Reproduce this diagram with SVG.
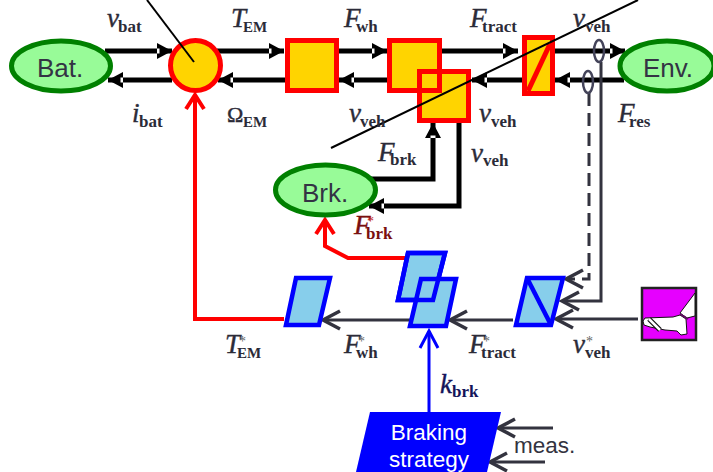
<svg xmlns="http://www.w3.org/2000/svg" width="713" height="472" viewBox="0 0 713 472">
<style>
text{font-family:"Liberation Sans",Arial,sans-serif}
.lbl{font-size:26px;fill:#333344;text-anchor:middle}
.env{fill:#98fb98;stroke:#008000;stroke-width:5}
.ec{fill:#ffd400;stroke:#ff0000;stroke-width:5}
.ol{fill:none;stroke:#ff0000;stroke-width:5}
.pc{fill:#87ceeb;stroke:#0000ff;stroke-width:4.5;stroke-linejoin:miter}
.pl{fill:none;stroke:#0000ff;stroke-width:4.5}
.b{fill:none;stroke:#000;stroke-width:5}
.g{fill:none;stroke:#33333f;stroke-width:3}
.r{fill:none;stroke:#ff0000;stroke-width:4}
.t{font-family:"Liberation Serif",serif;fill:#2b2b38}
.m{font-style:italic;font-size:27px;stroke:#2b2b38;stroke-width:.4}
.s{font-weight:bold;font-size:17px}
.st{font-size:14px;fill:#666}
.dr{fill:#7a1010}
.dn{fill:#14145a}
</style>
<defs>
<marker id="bh" markerUnits="userSpaceOnUse" markerWidth="16" markerHeight="18" refX="15" refY="9" orient="auto" overflow="visible">
<path d="M0 1L15 9L0 17Z" fill="#000"/><path d="M0 6.500h2.500v5H0Z" fill="#fff"/>
</marker>
<marker id="gh" markerUnits="userSpaceOnUse" markerWidth="20" markerHeight="28" refX="18" refY="14" orient="auto" overflow="visible">
<path d="M1 5L18 14L1 23" fill="none" stroke="#33333f" stroke-width="3.500"/>
</marker>
<marker id="rh" markerUnits="userSpaceOnUse" markerWidth="20" markerHeight="28" refX="16" refY="14" orient="auto" overflow="visible">
<path d="M2 5L16 14L2 23" fill="none" stroke="#ff0000" stroke-width="4"/>
</marker>
<marker id="uh" markerUnits="userSpaceOnUse" markerWidth="20" markerHeight="28" refX="18" refY="14" orient="auto" overflow="visible">
<path d="M1 5L18 14L1 23" fill="none" stroke="#0000ff" stroke-width="3"/>
</marker>
</defs>

<g id="connectors">
<path class="b" d="M105 51H172" marker-end="url(#bh)"/>
<path class="b" d="M217 51H284" marker-end="url(#bh)"/>
<path class="b" d="M339 51H387" marker-end="url(#bh)"/>
<path class="b" d="M442 51H518" marker-end="url(#bh)"/>
<path class="b" d="M555 51H625" marker-end="url(#bh)"/>
<path class="b" d="M172 80H108" marker-end="url(#bh)"/>
<path class="b" d="M287 80H218" marker-end="url(#bh)"/>
<path class="b" d="M389 80H339" marker-end="url(#bh)"/>
<path class="b" d="M524 80H472" marker-end="url(#bh)"/>
<path class="b" d="M624 80H555" marker-end="url(#bh)"/>
<path class="b" d="M371 179H433V123" marker-end="url(#bh)"/>
<path class="b" d="M459 123V206H369" marker-end="url(#bh)"/>
<path class="g" d="M601 62V301H562" marker-end="url(#gh)"/>
<path class="g" d="M589 93V279H566" stroke-dasharray="13 7" marker-end="url(#gh)"/>
<path class="g" d="M638 319H556" marker-end="url(#gh)"/>
<path class="g" d="M410 320H323" marker-end="url(#gh)"/>
<path class="g" d="M513 320H450" marker-end="url(#gh)"/>
<path class="g" d="M553 428H498" marker-end="url(#gh)"/>
<path class="g" d="M545 462H490" marker-end="url(#gh)"/>
<path class="r" d="M284 319H195V95" marker-end="url(#rh)"/>
<path class="r" d="M407 258H348L325 246V220" marker-end="url(#rh)"/>
<path d="M429 412V331" fill="none" stroke="#0000ff" stroke-width="3" marker-end="url(#uh)"/>
<ellipse cx="599" cy="51" rx="5" ry="11" fill="none" stroke="#44445a" stroke-width="2.500"/>
<ellipse cx="588" cy="82" rx="5" ry="11" fill="none" stroke="#44445a" stroke-width="2.500"/>
</g>

<g id="bat"><ellipse class="env" cx="61" cy="66" rx="49.500" ry="25"/><text class="lbl" x="60" y="77">Bat.</text></g>
<g id="conv"><circle class="ec" cx="195.500" cy="65.500" r="25"/></g>
<g id="machine"><rect class="ec" x="287.500" y="40.500" width="49" height="50"/></g>
<g id="coupling"><rect class="ec" x="389.500" y="40.500" width="50" height="50"/></g>
<g id="brake-block"><rect class="ec" x="419.500" y="71.500" width="49" height="49"/><rect class="ol" x="389.500" y="40.500" width="50" height="50"/></g>
<g id="wheel"><rect class="ec" x="524.500" y="37.500" width="28" height="56"/><path class="ol" d="M528 91L550 44"/></g>
<g id="env"><ellipse class="env" cx="667" cy="66" rx="47" ry="25"/><text class="lbl" x="668" y="77">Env.</text></g>
<g id="brk"><ellipse class="env" cx="325.500" cy="190" rx="50" ry="25"/><text class="lbl" x="325" y="202">Brk.</text></g>

<g id="ctrl-em"><path class="pc" d="M296 278H330L319 325H286Z"/></g>
<g id="ctrl-brk"><path class="pc" d="M408 253H445L433 300H398Z"/></g>
<g id="ctrl-coupling"><path class="pc" d="M421 279H456L446 326H410Z"/><path class="pl" d="M408 253H445L433 300H398Z"/></g>
<g id="ctrl-wheel"><path class="pc" d="M527 278H563L551 325H516Z"/><path class="pl" d="M527 278L551 325"/></g>

<g id="pedal">
<rect x="642" y="288" width="54" height="52" fill="#e600ff" stroke="#222" stroke-width="2.500"/>
<path d="M695 293V316L687 318L680 313Z" fill="#fff" stroke="#111" stroke-width="1"/>
<path d="M643 321L645 318L673 317L680 315L686 319L687 334L681 335L677 331L665 330L650 327L644 325Z" fill="#fff" stroke="#111" stroke-width="1"/>
<path d="M680 314L688 319" stroke="#601060" stroke-width="2"/>
<path d="M649 319L660 330" stroke="#111" stroke-width="5"/>
<path d="M649 319L660 330" stroke="#fff" stroke-width="2.500"/>
</g>

<g id="strategy">
<path d="M370 412H501L487 472H356Z" fill="#0000ff"/>
<text x="429" y="440" font-size="22.500" fill="#fff" text-anchor="middle">Braking</text>
<text x="429" y="467" font-size="22.500" fill="#fff" text-anchor="middle">strategy</text>
</g>

<path d="M147 0L194 62" stroke="#000" stroke-width="2" fill="none"/>
<path d="M331 148L638 0" stroke="#000" stroke-width="2" fill="none"/>

<g id="labels">
<text class="t"><tspan x="107" y="27" class="m">v</tspan><tspan x="118" y="32" class="s">bat</tspan></text>
<text class="t"><tspan x="231" y="27" class="m">T</tspan><tspan x="243" y="32" class="s" style="font-size:15px">EM</tspan></text>
<text class="t"><tspan x="344" y="27" class="m">F</tspan><tspan x="356" y="32" class="s">wh</tspan></text>
<text class="t"><tspan x="470" y="27" class="m">F</tspan><tspan x="482" y="32" class="s">tract</tspan></text>
<text class="t"><tspan x="573" y="27" class="m">v</tspan><tspan x="585" y="32" class="s">veh</tspan></text>
<text class="t"><tspan x="132" y="122" class="m">i</tspan><tspan x="139" y="127" class="s">bat</tspan></text>
<text class="t"><tspan x="227" y="122" class="m" style="font-style:normal;font-size:22px">Ω</tspan><tspan x="243" y="127" class="s" style="font-size:15px">EM</tspan></text>
<text class="t"><tspan x="349" y="122" class="m">v</tspan><tspan x="360" y="127" class="s">veh</tspan></text>
<text class="t"><tspan x="479" y="122" class="m">v</tspan><tspan x="491" y="127" class="s">veh</tspan></text>
<text class="t"><tspan x="618" y="122" class="m">F</tspan><tspan x="629" y="127" class="s">res</tspan></text>
<text class="t"><tspan x="378" y="161" class="m">F</tspan><tspan x="390" y="165" class="s">brk</tspan></text>
<text class="t"><tspan x="471" y="162" class="m">v</tspan><tspan x="483" y="166" class="s">veh</tspan></text>
<text class="t dr"><tspan x="354" y="234" class="m" style="stroke:#7a1010">F</tspan><tspan x="367" y="226" class="st" style="fill:#c02020">*</tspan><tspan x="366" y="239" class="s">brk</tspan></text>
<text class="t"><tspan x="225" y="353" class="m">T</tspan><tspan x="239" y="346" class="st">*</tspan><tspan x="237" y="358" class="s" style="font-size:15px">EM</tspan></text>
<text class="t"><tspan x="344" y="353" class="m">F</tspan><tspan x="358" y="346" class="st">*</tspan><tspan x="356" y="358" class="s">wh</tspan></text>
<text class="t"><tspan x="469" y="353" class="m">F</tspan><tspan x="483" y="346" class="st">*</tspan><tspan x="481" y="358" class="s">tract</tspan></text>
<text class="t"><tspan x="573" y="353" class="m">v</tspan><tspan x="586" y="346" class="st">*</tspan><tspan x="585" y="358" class="s">veh</tspan></text>
<text class="t dn"><tspan x="440" y="393" class="m" style="stroke:#14145a">k</tspan><tspan x="452" y="397" class="s">brk</tspan></text>
<text x="514" y="453" font-size="22.500" fill="#333340">meas.</text>
</g>
</svg>
